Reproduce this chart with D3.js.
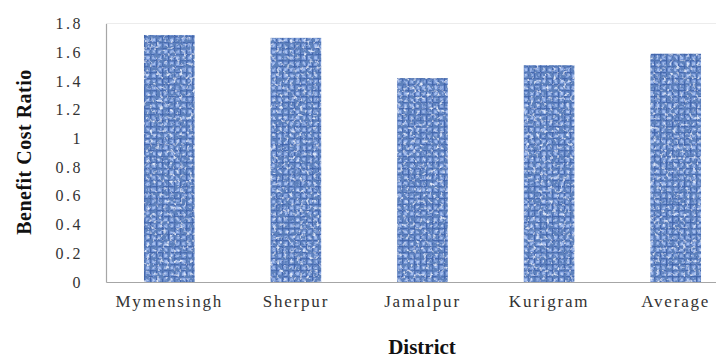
<!DOCTYPE html>
<html>
<head>
<meta charset="utf-8">
<script src="https://cdn.jsdelivr.net/npm/d3@7"></script>
<style>
  body { margin: 0; background: #fff; }
  svg { display: block; }
  text { font-family: "Liberation Serif", "Times New Roman", serif; }
</style>
</head>
<body>
<script>
// data ===========================================
var districts = ["Mymensingh", "Sherpur", "Jamalpur", "Kurigram", "Average"];
var bcr = [1.72, 1.70, 1.42, 1.51, 1.59];
var yTicks = [0, 0.2, 0.4, 0.6, 0.8, 1, 1.2, 1.4, 1.6, 1.8];

var width = 716, height = 360;
var margin = { top: 23.5, left: 106, bottom: 78 };
var serif = "'Liberation Serif', 'Times New Roman', serif";

var svg = d3.select("body").append("svg")
    .attr("width", width)
    .attr("height", height);

// woven blue texture for the bars
var defs = svg.append("defs");
var pat = defs.append("pattern")
    .attr("id", "weave")
    .attr("patternUnits", "userSpaceOnUse")
    .attr("width", 6)
    .attr("height", 6);
pat.append("rect").attr("width", 6).attr("height", 6).attr("fill", "#7898d8");
pat.append("rect").attr("x", 0).attr("y", 0).attr("width", 6).attr("height", 1.4).attr("fill", "#4569ae");
pat.append("rect").attr("x", 0).attr("y", 0).attr("width", 1.4).attr("height", 6).attr("fill", "#4266ab");
pat.append("rect").attr("x", 2.4).attr("y", 2.4).attr("width", 2.6).attr("height", 2.6).attr("fill", "#a6c0f0");

var filt = defs.append("filter")
    .attr("id", "noise")
    .attr("x", 0).attr("y", 0).attr("width", 1).attr("height", 1);
filt.append("feTurbulence")
    .attr("type", "fractalNoise")
    .attr("baseFrequency", 0.28)
    .attr("numOctaves", 2)
    .attr("seed", 7)
    .attr("result", "n");
filt.append("feColorMatrix")
    .attr("in", "n")
    .attr("type", "matrix")
    .attr("values", "0 0 0 0 0.11  0 0 0 0 0.22  0 0 0 0 0.50  -4.5 0 0 0 2.6")
    .attr("result", "dark");
filt.append("feTurbulence")
    .attr("type", "fractalNoise")
    .attr("baseFrequency", 0.3)
    .attr("numOctaves", 2)
    .attr("seed", 21)
    .attr("result", "n2");
filt.append("feColorMatrix")
    .attr("in", "n2")
    .attr("type", "matrix")
    .attr("values", "0 0 0 0 0.76  0 0 0 0 0.84  0 0 0 0 0.98  4 0 0 0 -2.3")
    .attr("result", "light");
filt.append("feComposite")
    .attr("in", "dark")
    .attr("in2", "SourceGraphic")
    .attr("operator", "atop")
    .attr("result", "d1");
filt.append("feComposite")
    .attr("in", "light")
    .attr("in2", "d1")
    .attr("operator", "atop")
    .attr("result", "d2");
filt.append("feGaussianBlur")
    .attr("in", "d2")
    .attr("stdDeviation", 0.4);

var x = d3.scaleBand()
    .domain(districts)
    .range([margin.left, margin.left + 5 * 126.6])
    .paddingInner(0.6)
    .paddingOuter(0.3);

var y = d3.scaleLinear()
    .domain([0, 1.8])
    .range([height - margin.bottom, margin.top]);

// plot frame top edge
svg.append("line")
    .attr("x1", margin.left).attr("x2", width)
    .attr("y1", y(1.8)).attr("y2", y(1.8))
    .attr("stroke", "#ececec");

svg.selectAll("rect.bar")
    .data(bcr)
  .enter().append("rect")
    .attr("class", "bar")
    .attr("x", (d, i) => x(districts[i]))
    .attr("width", x.bandwidth())
    .attr("y", d => y(d))
    .attr("height", d => y(0) - y(d))
    .attr("fill", "url(#weave)")
    .attr("filter", "url(#noise)");

var yAxis = d3.axisLeft(y)
    .tickValues(yTicks)
    .tickSize(0)
    .tickPadding(23)
    .tickFormat(d3.format("~g"));

var gy = svg.append("g")
    .attr("transform", "translate(" + margin.left + ",0)")
    .call(yAxis);
gy.attr("font-family", null);
gy.select(".domain").attr("stroke", "#a6a6a6").attr("stroke-width", 1.2);
gy.selectAll("text")
    .style("font-family", serif)
    .style("font-size", "16px")
    .style("letter-spacing", "2.5px")
    .attr("fill", "#333");

var xAxis = d3.axisBottom(x).tickSize(0).tickPadding(13);
var gx = svg.append("g")
    .attr("transform", "translate(0," + y(0) + ")")
    .call(xAxis);
gx.attr("font-family", null);
gx.select(".domain").attr("stroke", "#a6a6a6").attr("stroke-width", 1.2);
gx.selectAll("text")
    .style("font-family", serif)
    .style("font-size", "17px")
    .style("letter-spacing", "1.8px")
    .attr("fill", "#333");

// axis titles
svg.append("text")
    .attr("x", 422)
    .attr("y", 354)
    .attr("text-anchor", "middle")
    .style("font-family", serif)
    .style("font-weight", "bold")
    .style("font-size", "21px")
    .attr("fill", "#111")
    .text("District");

svg.append("text")
    .attr("transform", "translate(31,152) rotate(-90)")
    .attr("text-anchor", "middle")
    .style("font-family", serif)
    .style("font-weight", "bold")
    .style("font-size", "20px")
    .style("letter-spacing", "0.5px")
    .attr("fill", "#111")
    .text("Benefit Cost Ratio");
</script>
</body>
</html>
